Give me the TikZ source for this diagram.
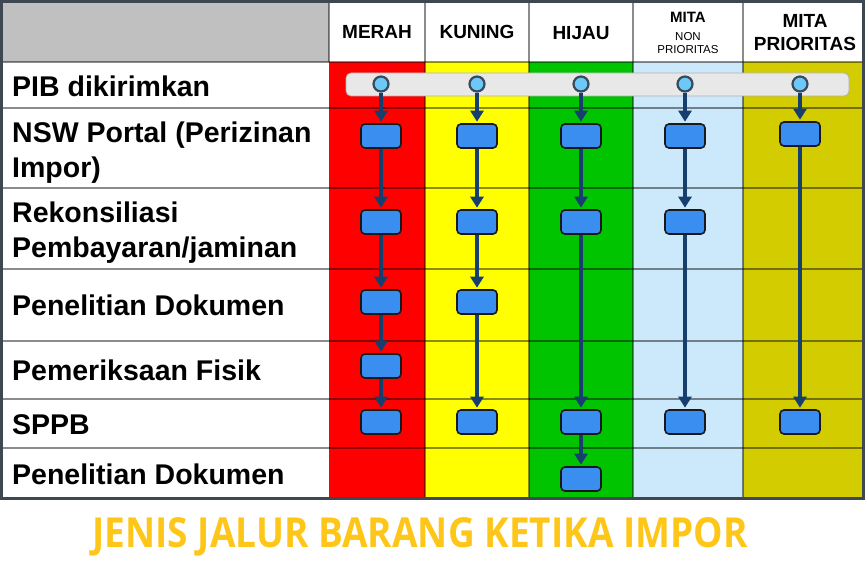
\documentclass[tikz,border=0pt]{standalone}
\usepackage{fontspec}
\setmainfont{Liberation Sans}
\newfontfamily\titlefont{Open Sans}
\usepackage{tikz}
\usetikzlibrary{arrows.meta,positioning,calc}
\definecolor{merah}{HTML}{FF0000}
\definecolor{kuning}{HTML}{FFFF00}
\definecolor{hijau}{HTML}{00C400}
\definecolor{mitanon}{HTML}{CCE9FB}
\definecolor{mitapr}{HTML}{D2CC00}
\definecolor{kepala}{HTML}{C0C0C0}
\definecolor{bingkai}{HTML}{3E4852}
\definecolor{kotak}{HTML}{3A8EF0}
\definecolor{panah}{HTML}{173F6E}
\definecolor{titik}{HTML}{6CC8F8}
\definecolor{tepititik}{HTML}{3A4A58}
\definecolor{judul}{HTML}{FFC61A}
\tikzset{
  grid/.style={black,opacity=0.45,line width=1.5pt},
  frame/.style={draw=bingkai,line width=3pt},
  bar/.style={fill=black!9,draw=black!30,line width=0.8pt,rounded corners=5pt},
  box/.style={draw=black!90,line width=1.6pt,fill=kotak,rounded corners=4pt,
    minimum width=40pt,minimum height=24pt,inner sep=0pt},
  dot/.style={circle,fill=titik,draw=tepititik,line width=2.2pt,minimum size=15pt,inner sep=0pt},
  flow/.style={draw=panah,line width=3.4pt,-{Triangle[length=11pt,width=13pt]},shorten >=1.5pt},
  lbl/.style={anchor=base west,inner sep=0pt,font=\bfseries\fontsize{28.5}{34}\selectfont},
  hdr/.style={anchor=base,inner sep=0pt,font=\bfseries\fontsize{19}{22}\selectfont},
  hdrs/.style={anchor=base,inner sep=0pt,font=\fontsize{11.5}{13}\selectfont},
  title/.style={anchor=base,inner sep=0pt,text=judul,font=\titlefont\bfseries}
}
\begin{document}
\begin{tikzpicture}[x=1pt,y=-1pt]
  \useasboundingbox (0,0) rectangle (866,567);
  % kolom
  \fill[kepala] (2,2) rectangle (329,62);
  \fill[merah] (329,62) rectangle (425,498);
  \fill[kuning] (425,62) rectangle (529,498);
  \fill[hijau] (529,62) rectangle (633,498);
  \fill[mitanon] (633,62) rectangle (743,498);
  \fill[mitapr] (743,62) rectangle (863,498);
  % garis
  \foreach \y in {62,108,188,269,341,399,448}
    \draw[grid] (2,\y) -- (863,\y);
  \foreach \x in {425,529,633,743}
    \draw[grid] (\x,2) -- (\x,498);
  \draw[grid] (329,2) -- (329,62);
  \draw[frame] (1.5,1.5) rectangle (863.5,498);

  \draw[bar] (346,73) rectangle (849,96);

  \foreach \n/\x in {dm/381,dk/477,dh/581,dn/685,dp/800}
    \node[dot] (\n) at (\x,84) {};

  \foreach \n/\x/\y in {m1/381/136,m2/381/222,m3/381/302,m4/381/366,m5/381/422,
      k1/477/136,k2/477/222,k3/477/302,k4/477/422,
      h1/581/136,h2/581/222,h3/581/422,h4/581/479,
      n1/685/136,n2/685/222,n3/685/422,
      p1/800/134,p2/800/422}
    \node[box] (\n) at (\x,\y) {};

  \foreach \a/\b in {dm/m1,m1/m2,m2/m3,m3/m4,m4/m5,
      dk/k1,k1/k2,k2/k3,k3/k4,
      dh/h1,h1/h2,h2/h3,h3/h4,
      dn/n1,n1/n2,n2/n3,
      dp/p1,p1/p2}
    \draw[flow] (\a) -- (\b);

  \node[hdr] (t1) at (377,39) {MERAH};
  \node[hdr] (t2) at (477,39) {KUNING};
  \node[hdr] (t3) at (581,40) {HIJAU};
  \node[hdr,font=\bfseries\fontsize{15}{18}\selectfont] (t4a) at (688,23) {MITA};
  \node[hdrs] (t4b) at (688,41) {NON};
  \node[hdrs] (t4c) at (688,54) {PRIORITAS};
  \node[hdr] (t5a) at (805,28) {MITA};
  \node[hdr] (t5b) at (805,51) {PRIORITAS};

  \node[lbl] (l1) at (12,97) {PIB dikirimkan};
  \node[lbl] (l2a) at (12,142) {NSW Portal (Perizinan};
  \node[lbl] (l2b) at (12,177) {Impor)};
  \node[lbl] (l3a) at (12,222) {Rekonsiliasi};
  \node[lbl] (l3b) at (12,257) {Pembayaran/jaminan};
  \node[lbl] (l4) at (12,315) {Penelitian Dokumen};
  \node[lbl] (l5) at (12,380) {Pemeriksaan Fisik};
  \node[lbl] (l6) at (12,434) {SPPB};
  \node[lbl] (l7) at (12,484) {Penelitian Dokumen};

  \node[title] (judul) at (420,547) {\resizebox{655pt}{30pt}{JENIS JALUR BARANG KETIKA IMPOR}};
\end{tikzpicture}
\end{document}
